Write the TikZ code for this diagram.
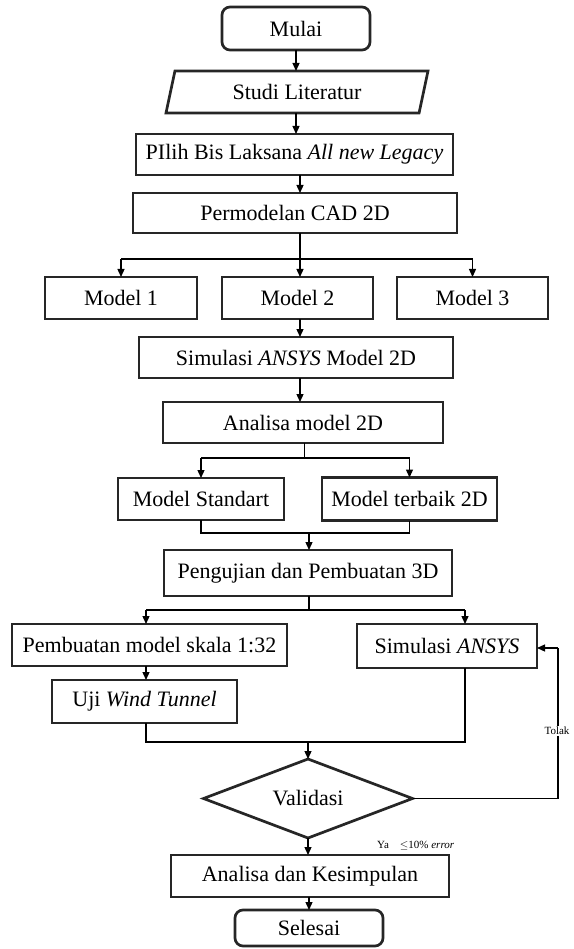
\documentclass[tikz,border=0pt]{standalone}
\usepackage{fontspec}
\setmainfont{Liberation Serif}
\usetikzlibrary{arrows.meta,shapes.geometric,calc}
\begin{document}
\begin{tikzpicture}[x=1pt,y=-1pt,
  box/.style={draw=black!85, line width=2.7pt, inner sep=0pt, outer sep=0pt,
    font=\fontsize{22}{26}\selectfont, fill=white},
  roundbox/.style={box, rounded corners=8pt},
  conn/.style={line width=1.3pt, draw=black},
  arr/.style={conn, -{Triangle[length=8pt,width=7pt]}},
  smalltext/.style={font=\fontsize{11}{13}\selectfont, inner sep=1pt}]
\useasboundingbox[fill=white] (0,0) rectangle (573,949);

% nodes
\node[roundbox, minimum width=148, minimum height=43] (mulai) at (296,28.5) {Mulai};
\node[box, trapezium, trapezium left angle=60, trapezium right angle=120,
  trapezium stretches body, minimum width=262, minimum height=42] (studi) at (297,92) {Studi Literatur};
\node[box, minimum width=317, minimum height=41] (pilih) at (294.5,154.5) {PIlih Bis Laksana \textit{All new Legacy}};
\node[box, minimum width=324, minimum height=40] (cad) at (295,213) {Permodelan CAD 2D};
\node[box, minimum width=152, minimum height=42] (m1) at (121,298) {Model 1};
\node[box, minimum width=151, minimum height=42] (m2) at (297.5,298) {Model 2};
\node[box, minimum width=151, minimum height=42] (m3) at (472.5,298) {Model 3};
\node[box, minimum width=314, minimum height=41] (sim2d) at (296,357.5) {Simulasi \textit{ANSYS} Model 2D};
\node[box, minimum width=280, minimum height=41] (ana2d) at (303,422.5) {Analisa model 2D};
\node[box, minimum width=166, minimum height=42] (std) at (201,499) {Model Standart};
\node[box, minimum width=175, minimum height=43] (best) at (409.5,499) {Model terbaik 2D};
\node[box, minimum width=288, minimum height=46] (uji3d) at (308,573) {Pengujian dan Pembuatan 3D};
\node[box, minimum width=275, minimum height=42] (buat) at (149.5,645) {Pembuatan model skala 1:32};
\node[box, minimum width=180, minimum height=44] (sima) at (447,646) {Simulasi \textit{ANSYS}};
\node[box, minimum width=185, minimum height=43] (wind) at (144.5,701.5) {Uji \textit{Wind Tunnel}};
\node[box, diamond, aspect=2.65, minimum width=209, minimum height=79] (val) at (308,798.5) {Validasi};
\node[box, minimum width=278, minimum height=42] (kes) at (310,876) {Analisa dan Kesimpulan};
\node[roundbox, minimum width=148, minimum height=36] (selesai) at (309,928) {Selesai};

% connectors
\draw[arr] (mulai.south) -- (mulai.south |- studi.north);
\draw[arr] (mulai.south |- studi.south) -- (mulai.south |- pilih.north);
\coordinate (b1) at (300,259);
\draw[arr] (b1 |- pilih.south) -- (b1 |- cad.north);
\draw[conn] (b1 |- cad.south) -- (b1);
\draw[conn] (m1.north |- b1) -- (m3.north |- b1);
\draw[arr] (m1.north |- b1) -- (m1.north);
\draw[arr] (b1) -- (b1 |- m2.north);
\draw[arr] (m3.north |- b1) -- (m3.north);
\draw[arr] (b1 |- m2.south) -- (b1 |- sim2d.north);
\draw[arr] (b1 |- sim2d.south) -- (b1 |- ana2d.north);

\coordinate (b2) at (304,458);
\draw[conn, line width=0.8pt] (b2 |- ana2d.south) -- (b2);
\draw[conn] (std.north |- b2) -- (best.north |- b2);
\draw[arr] (std.north |- b2) -- (std.north);
\draw[arr] (best.north |- b2) -- (best.north);

\coordinate (j1) at (309,533);
\draw[conn] (std.south) -- (std.south |- j1) -- (best.south |- j1) -- (best.south);
\draw[arr] (j1) -- (j1 |- uji3d.north);

\coordinate (b3) at (309,610);
\coordinate (b3l) at (146,610);
\coordinate (b3r) at (465,610);
\draw[conn] (b3 |- uji3d.south) -- (b3);
\draw[conn] (b3l) -- (b3r);
\draw[arr] (b3l) -- (b3l |- buat.north);
\draw[arr] (b3r) -- (b3r |- sima.north);
\draw[arr] (b3l |- buat.south) -- (b3l |- wind.north);

\coordinate (j2) at (308,742);
\draw[conn] (b3l |- wind.south) -- (b3l |- j2) -- (b3r |- j2) -- (b3r |- sima.south);
\draw[arr] (j2) -- (val.north);

\coordinate (t1) at (558,798.5);
\coordinate (t2) at (558,648);
\draw[conn] (val.east) -- (t1) -- (t2);
\draw[arr] (t2) -- (t2 -| sima.east);
\node[smalltext, fill=white] (tolak) at (557,731) {Tolak};

\draw[arr] (val.south) -- (val.south |- kes.north);
\draw[arr] (selesai.north |- kes.south) -- (selesai.north);
\node[smalltext, anchor=west] (ya) at (376,846) {Ya\quad$\leq$10\% \textit{error}};
\end{tikzpicture}
\end{document}
